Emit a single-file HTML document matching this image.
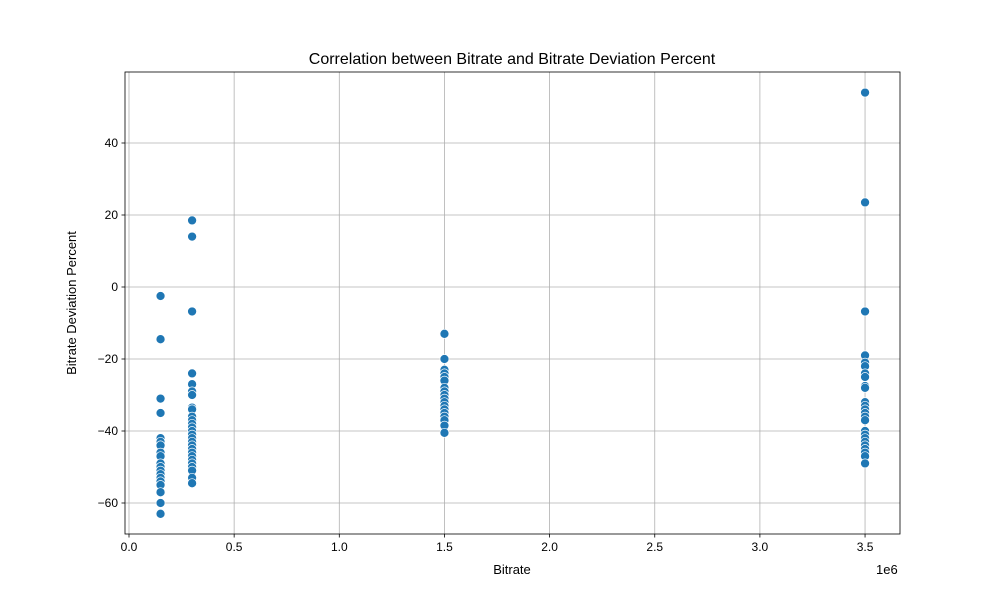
<!DOCTYPE html>
<html><head><meta charset="utf-8"><style>body{margin:0;background:#fff}svg text{font-family:"Liberation Sans",sans-serif;fill:#000}</style></head>
<body>
<svg id="chart" width="1000" height="600">
<rect x="0" y="0" width="1000" height="600" fill="#fff"/>
<g id="grid"></g><g id="pts"></g><g id="axes"></g>
<text x="512" y="64" font-size="16" text-anchor="middle">Correlation between Bitrate and Bitrate Deviation Percent</text>
<text x="512" y="574" font-size="13" text-anchor="middle">Bitrate</text>
<text x="876" y="574" font-size="13">1e6</text>
<text transform="translate(76,303) rotate(-90)" font-size="13" text-anchor="middle">Bitrate Deviation Percent</text>
</svg>
<script>
const bitrates = [150000, 300000, 1500000, 3500000];
const dev150k = [-2.5,-14.5,-31,-35,-42,-43,-44,-46,-47,-49,-50,-51,-52,-53,-54,-55,-57,-60,-63];
const dev300k = [18.5,14,-6.8,-24,-27,-29,-30,-33.5,-34,-36,-37,-38,-39,-40,-41,-42,-43,-44,-45,-46,-47,-48,-49,-50,-51,-53,-54.5];
const dev1500k = [-13,-20,-23,-24,-25,-26,-28,-29,-30,-31,-32,-33,-34,-35,-36,-37,-38.5,-40.5];
const dev3500k = [54,23.5,-6.8,-19,-21,-22,-24,-25,-27.5,-28,-32,-33,-34,-35,-36,-37,-40,-41,-42,-43,-44,-45,-46,-47,-49];
const xTicks = [0,0.5,1.0,1.5,2.0,2.5,3.0,3.5];
const yTicks = [-60,-40,-20,0,20,40];
const NS='http://www.w3.org/2000/svg';
const L=125,R=900,T=72,B=534;
const xs=v=>129+v*210.3/1e6;
const ys=v=>287-v*3.6;
function mk(tag,attrs,parent){const e=document.createElementNS(NS,tag);for(const k in attrs)e.setAttribute(k,attrs[k]);parent.appendChild(e);return e;}
const grid=document.getElementById('grid'),axes=document.getElementById('axes'),pts=document.getElementById('pts');
xTicks.forEach(t=>{const x=xs(t*1e6);
 const g=mk('line',{x1:x,x2:x,y1:T,y2:B,stroke:'#b0b0b0','stroke-width':0.8},grid);
 
 mk('line',{x1:x,x2:x,y1:B,y2:B+3.5,stroke:'#000','stroke-width':0.8},axes);
 const tx=mk('text',{x:x,y:B+17,'font-size':12,'text-anchor':'middle'},axes);tx.textContent=t.toFixed(1);
 });
yTicks.forEach(t=>{const y=ys(t);
 const g=mk('line',{x1:L,x2:R,y1:y,y2:y,stroke:'#b0b0b0','stroke-width':0.8},grid);
 
 mk('line',{x1:L-3.5,x2:L,y1:y,y2:y,stroke:'#000','stroke-width':0.8},axes);
 const tx=mk('text',{x:L-7,y:y+4,'font-size':12,'text-anchor':'end'},axes);tx.textContent=t<0?'\u2212'+(-t):String(t);
 });
const frame=mk('rect',{x:L,y:T,width:R-L,height:B-T,fill:'none',stroke:'#000','stroke-width':0.8},axes);

[dev150k,dev300k,dev1500k,dev3500k].forEach((arr,i)=>{arr.forEach(v=>{
 const c=mk('circle',{cx:xs(bitrates[i]),cy:ys(v),r:4.5,fill:'#1f77b4',stroke:'#fff','stroke-width':0.7},pts);
 });});
</script>
</body></html>
